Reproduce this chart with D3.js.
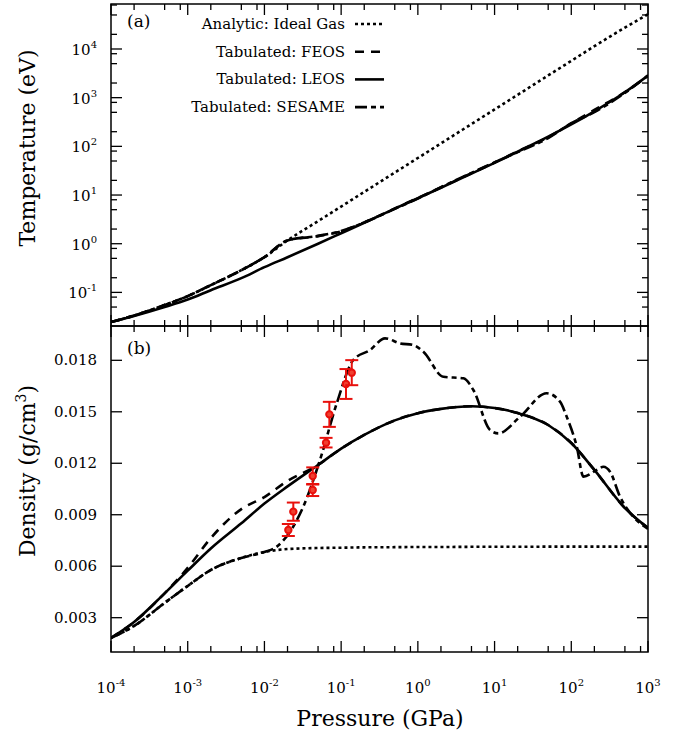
<!DOCTYPE html>
<html>
<head>
<meta charset="utf-8">
<script src="https://cdn.jsdelivr.net/npm/d3@7"></script>
<style>
    body { margin: 0; background: #fff; }
    text { font-family: "DejaVu Serif", serif; fill: #000; }
</style>
</head>
<body>
<div id="chart"></div>
<script>
// pressure grid (GPa) shared by most curves
const pressure = [1e-4, 2e-4, 5e-4, 1e-3, 2e-3, 5e-3, 1e-2, 2e-2, 5e-2, 0.1, 0.2, 0.5, 1, 2, 5, 10, 20, 50, 100, 200, 500, 1000];

// panel (a): temperature (eV)
const tempIdeal  = [0.0246, 0.0335, 0.055, 0.084, 0.141, 0.286, 0.528, 1.17, 2.91, 5.8, 11.6, 28.9, 57.6, 115, 287, 573, 1145, 2860, 5710, 11400, 27500, 52000];
const tempFEOS   = [0.0246, 0.0335, 0.055, 0.084, 0.141, 0.286, 0.528, 1.17, 1.43, 1.80, 2.75, 5.3, 8.7, 14.3, 28, 46.5, 79, 155, 295, 560, 1300, 2840];
const tempLEOS   = [0.0246, 0.0327, 0.050, 0.0712, 0.111, 0.196, 0.330, 0.528, 1.0, 1.64, 2.69, 5.25, 8.6, 14.1, 27.5, 45.7, 77.6, 158, 282, 525, 1290, 2840];
const tempSESAME = [0.0246, 0.0335, 0.055, 0.084, 0.141, 0.286, 0.528, 1.17, 1.45, 1.82, 2.72, 5.2, 8.5, 14.5, 28.5, 47, 76, 148, 300, 505, 1250, 2840];

// panel (b): density (g/cm3)
const densIdeal = [0.00182, 0.00252, 0.00386, 0.00485, 0.00578, 0.00648, 0.00683, 0.00700, 0.00706, 0.00708, 0.00710, 0.00711, 0.00712, 0.00712, 0.00713, 0.00713, 0.00713, 0.00714, 0.00714, 0.00714, 0.00714, 0.00714];
const densFEOS  = [0.00182, 0.00275, 0.00442, 0.0059, 0.00764, 0.00933, 0.01003, 0.01097, 0.0119, 0.01285, 0.01365, 0.0145, 0.01492, 0.01517, 0.01532, 0.01522, 0.01493, 0.01423, 0.01318, 0.01161, 0.00939, 0.00823];
const densLEOS  = [0.00182, 0.00275, 0.00442, 0.00574, 0.00703, 0.0085, 0.00965, 0.01065, 0.0119, 0.01285, 0.01365, 0.0145, 0.01492, 0.01517, 0.01532, 0.01522, 0.01493, 0.01423, 0.01318, 0.01161, 0.00939, 0.00823];

// SESAME density is read on its own, finer pressure grid
const sesamePressure = [1e-4, 2e-4, 5e-4, 1e-3, 2e-3, 5e-3, 1e-2, 0.0145, 0.0321, 0.053, 0.0876, 0.144, 0.238, 0.373, 0.585, 0.873, 1.18, 2.15, 3.92, 5.29, 8.73, 11.2, 21.5, 47.8, 71.3, 87.2, 118, 144, 215, 262, 320, 432, 644, 1000];
const densSESAME = [0.00182, 0.00252, 0.00386, 0.00485, 0.00578, 0.00648, 0.00683, 0.00714, 0.00947, 0.01219, 0.01549, 0.01802, 0.0186, 0.01928, 0.01899, 0.01889, 0.0185, 0.01704, 0.01695, 0.01627, 0.01394, 0.01374, 0.01471, 0.01608, 0.01559, 0.01471, 0.01296, 0.01122, 0.01161, 0.0118, 0.01151, 0.01005, 0.00888, 0.00818];

// experiment
const expPressure = [0.0205, 0.0238, 0.0426, 0.0426, 0.0636, 0.0702, 0.1157, 0.1375];
const expDensity  = [0.00811, 0.00918, 0.01044, 0.01126, 0.0132, 0.01485, 0.01662, 0.01728];
const expError    = [0.00035, 0.00053, 0.00035, 0.0005, 0.00028, 0.00073, 0.00087, 0.00073];

// ticks
const pressureExponents = [-4, -3, -2, -1, 0, 1, 2, 3];
const tempExponents = [-1, 0, 1, 2, 3, 4];
const minorMultipliers = [2, 5, 8];
const densTicks = [0.003, 0.006, 0.009, 0.012, 0.015, 0.018];

const legendLabels = ["Analytic: Ideal Gas", "Tabulated: FEOS", "Tabulated: LEOS", "Tabulated: SESAME"];
const dashes = ["3,3", "9,7", null, "12,4,5,4"];

const width = 687;
const height = 739;
const plot = { left: 111, right: 648, top: 4, mid: 326, bottom: 652 };

const svg = d3.select("#chart").append("svg")
    .attr("width", width)
    .attr("height", height);

const x = d3.scaleLog().domain([1e-4, 1e3]).range([plot.left, plot.right]);
const yT = d3.scaleLog().domain([0.0204, 8.4e4]).range([plot.mid, plot.top]);
const yD = d3.scaleLinear().domain([0.001, 0.020]).range([plot.bottom, plot.mid]);

function logTicks(exponents) {
    const major = exponents.map(e => Math.pow(10, e));
    const minor = [];
    major.forEach(v => minorMultipliers.forEach(m => minor.push(m * v)));
    return { major: major, minor: minor };
}

const xt = logTicks(pressureExponents);
const yt = logTicks([-2].concat(tempExponents));
const inX = v => v >= 1e-4 && v <= 1e3;
const inT = v => v >= yT.domain()[0] && v <= yT.domain()[1];

function clip(id, y0, y1) {
    svg.append("clipPath").attr("id", id)
        .append("rect")
        .attr("x", plot.left).attr("y", y0)
        .attr("width", plot.right - plot.left).attr("height", y1 - y0);
}
clip("clipA", plot.top, plot.mid);
clip("clipB", plot.mid, plot.bottom);

// draws inward ticks on all four sides of a panel
function frameTicks(y0, y1, yScale, yMajor, yMinor) {
    const g = svg.append("g");
    const hx = [[y1, -1], [y0, 1]];
    hx.forEach(function (h) {
        xt.major.filter(inX).forEach(v => g.append("line")
            .attr("x1", x(v)).attr("x2", x(v)).attr("y1", h[0]).attr("y2", h[0] + h[1] * 11));
        xt.minor.filter(inX).forEach(v => g.append("line")
            .attr("x1", x(v)).attr("x2", x(v)).attr("y1", h[0]).attr("y2", h[0] + h[1] * 6));
    });
    [[plot.left, 1], [plot.right, -1]].forEach(function (s) {
        yMajor.forEach(v => g.append("line")
            .attr("y1", yScale(v)).attr("y2", yScale(v)).attr("x1", s[0]).attr("x2", s[0] + s[1] * 11));
        yMinor.forEach(v => g.append("line")
            .attr("y1", yScale(v)).attr("y2", yScale(v)).attr("x1", s[0]).attr("x2", s[0] + s[1] * 6));
    });
    g.selectAll("line").attr("stroke", "#000").attr("stroke-width", 1.3);
    svg.append("rect")
        .attr("x", plot.left).attr("y", y0)
        .attr("width", plot.right - plot.left).attr("height", y1 - y0)
        .attr("fill", "none").attr("stroke", "#000").attr("stroke-width", 1.5);
}

function powLabel(sel, e) {
    sel.text("10");
    sel.append("tspan").attr("dy", -7).attr("font-size", 10).text(e);
}

function drawCurves(clipId, series, yScale) {
    const g = svg.append("g").attr("clip-path", "url(#" + clipId + ")");
    series.forEach(function (s) {
        const line = d3.line()
            .x(d => x(d[0]))
            .y(d => yScale(d[1]))
            .curve(d3.curveMonotoneX);
        g.append("path")
            .datum(d3.zip(s.p, s.v))
            .attr("d", line)
            .attr("fill", "none")
            .attr("stroke", "#000")
            .attr("stroke-width", 2.6)
            .attr("stroke-dasharray", s.dash);
    });
}

// panel (a)
drawCurves("clipA", [
    { p: pressure, v: tempIdeal, dash: dashes[0] },
    { p: pressure, v: tempFEOS, dash: dashes[1] },
    { p: pressure, v: tempSESAME, dash: dashes[3] },
    { p: pressure, v: tempLEOS, dash: dashes[2] }
], yT);
frameTicks(plot.top, plot.mid, yT, yt.major.filter(inT), yt.minor.filter(inT));

// panel (b)
drawCurves("clipB", [
    { p: pressure, v: densIdeal, dash: dashes[0] },
    { p: pressure, v: densFEOS, dash: dashes[1] },
    { p: sesamePressure, v: densSESAME, dash: dashes[3] },
    { p: pressure, v: densLEOS, dash: dashes[2] }
], yD);
frameTicks(plot.mid, plot.bottom, yD, densTicks, []);

// experimental points with error bars
const exp = svg.append("g")
    .selectAll("g")
    .data(d3.range(expPressure.length))
    .enter().append("g")
    .attr("stroke", "#e8100c")
    .attr("stroke-width", 2);
exp.append("line")
    .attr("x1", i => x(expPressure[i])).attr("x2", i => x(expPressure[i]))
    .attr("y1", i => yD(expDensity[i] - expError[i]))
    .attr("y2", i => yD(expDensity[i] + expError[i]));
[-1, 1].forEach(function (sgn) {
    exp.append("line")
        .attr("x1", i => x(expPressure[i]) - 6.5).attr("x2", i => x(expPressure[i]) + 6.5)
        .attr("y1", i => yD(expDensity[i] + sgn * expError[i]))
        .attr("y2", i => yD(expDensity[i] + sgn * expError[i]));
});
exp.append("circle")
    .attr("cx", i => x(expPressure[i]))
    .attr("cy", i => yD(expDensity[i]))
    .attr("r", 3.2)
    .attr("fill", "#f04030");

// tick labels
xt.major.forEach(function (v, i) {
    svg.append("text")
        .attr("x", x(v)).attr("y", 693)
        .attr("text-anchor", "middle")
        .attr("font-size", 15)
        .call(powLabel, pressureExponents[i]);
});
tempExponents.forEach(function (e) {
    svg.append("text")
        .attr("x", 97).attr("y", yT(Math.pow(10, e)) + 6)
        .attr("text-anchor", "end")
        .attr("font-size", 15)
        .call(powLabel, e);
});
densTicks.forEach(function (v) {
    svg.append("text")
        .attr("x", 97).attr("y", yD(v) + 5)
        .attr("text-anchor", "end")
        .attr("font-size", 15)
        .text(d3.format(".3f")(v));
});

// axis titles
svg.append("text")
    .attr("transform", "translate(35,148) rotate(-90)")
    .attr("text-anchor", "middle")
    .attr("font-size", 22)
    .text("Temperature (eV)");
const dl = svg.append("text")
    .attr("transform", "translate(35,471) rotate(-90)")
    .attr("text-anchor", "middle")
    .attr("font-size", 22)
    .text("Density (g/cm");
dl.append("tspan").attr("dy", -9).attr("font-size", 14).text("3");
dl.append("tspan").attr("dy", 9).text(")");
svg.append("text")
    .attr("x", 380).attr("y", 726)
    .attr("text-anchor", "middle")
    .attr("font-size", 22)
    .text("Pressure (GPa)");

// panel labels
svg.append("text").attr("x", 127).attr("y", 27).attr("font-size", 17).text("(a)");
svg.append("text").attr("x", 127).attr("y", 354).attr("font-size", 17).text("(b)");

// legend
const legend = svg.append("g")
    .selectAll("g")
    .data(legendLabels)
    .enter().append("g")
    .attr("transform", (d, i) => "translate(0," + (24 + i * 27.7) + ")");
legend.append("text")
    .attr("x", 345).attr("y", 5)
    .attr("text-anchor", "end")
    .attr("font-size", 15)
    .text(d => d);
legend.append("line")
    .attr("x1", 355).attr("x2", 384)
    .attr("stroke", "#000")
    .attr("stroke-width", 2.6)
    .attr("stroke-dasharray", (d, i) => dashes[i]);
</script>
</body>
</html>
